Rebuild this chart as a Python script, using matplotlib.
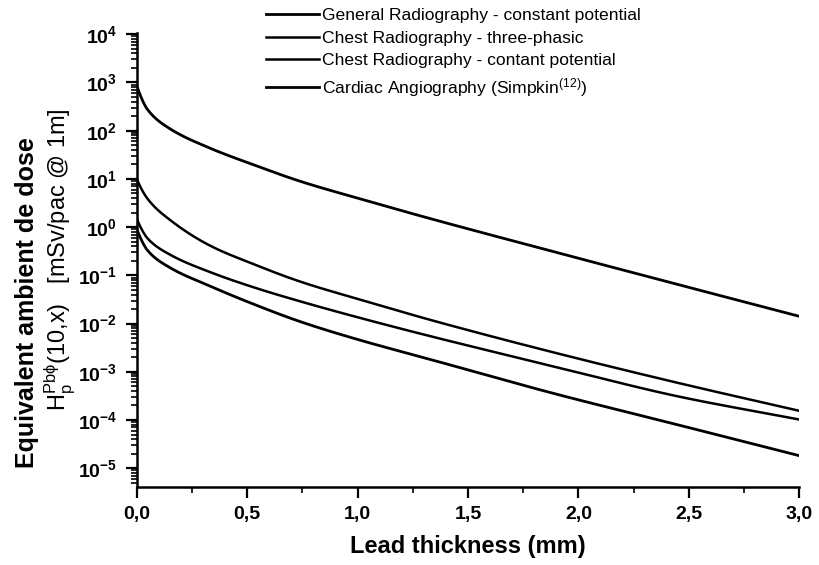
import matplotlib
matplotlib.use("Agg")
import matplotlib.pyplot as plt
import numpy as np
from matplotlib.ticker import FixedLocator, LogLocator, FuncFormatter, NullFormatter

plt.rcParams['font.family'] = ['Liberation Sans', 'DejaVu Sans']
plt.rcParams['mathtext.fontset'] = 'custom'
plt.rcParams['mathtext.rm'] = 'Liberation Sans'
plt.rcParams['mathtext.it'] = 'Liberation Sans:italic'
plt.rcParams['mathtext.bf'] = 'Liberation Sans:bold'

# lead thickness (mm)
x = np.array([0, 0.05, 0.15, 0.33, 0.53, 0.74, 1.0, 1.31, 1.88, 2.45, 3.0])

# log10 of the dose
general_cp = np.array([2.93, 2.43, 2.04, 1.64, 1.29, 0.95, 0.60, 0.20, -0.50, -1.19, -1.85])
chest_3ph = np.array([1.00, 0.58, 0.15, -0.38, -0.77, -1.13, -1.49, -1.90, -2.59, -3.23, -3.81])
chest_cp = np.array([0.17, -0.24, -0.57, -0.93, -1.25, -1.54, -1.87, -2.24, -2.88, -3.51, -3.99])
cardiac = np.array([-0.04, -0.49, -0.84, -1.22, -1.60, -1.96, -2.33, -2.72, -3.44, -4.10, -4.74])

labels = ["General Radiography - constant potential",
          "Chest Radiography - three-phasic",
          "Chest Radiography - contant potential",
          r"Cardiac Angiography (Simpkin$^{(12)}$)"]

xticks = [0.0, 0.5, 1.0, 1.5, 2.0, 2.5, 3.0]


def pchip(xk, yk, xs):
    # monotone cubic through the read points (Fritsch-Carlson)
    h = np.diff(xk)
    d = np.diff(yk) / h
    m = np.zeros_like(yk)
    for i in range(1, len(xk) - 1):
        if d[i - 1] * d[i] > 0:
            w1 = 2 * h[i] + h[i - 1]
            w2 = h[i] + 2 * h[i - 1]
            m[i] = (w1 + w2) / (w1 / d[i - 1] + w2 / d[i])
    m[0] = d[0] * 1.3
    m[-1] = d[-1]
    idx = np.clip(np.searchsorted(xk, xs) - 1, 0, len(xk) - 2)
    t = (xs - xk[idx]) / h[idx]
    h00 = 2 * t**3 - 3 * t**2 + 1
    h10 = t**3 - 2 * t**2 + t
    h01 = -2 * t**3 + 3 * t**2
    h11 = t**3 - t**2
    return h00 * yk[idx] + h10 * h[idx] * m[idx] + h01 * yk[idx + 1] + h11 * h[idx] * m[idx + 1]


fig = plt.figure(figsize=(8.19, 5.65), dpi=100)
ax = fig.add_axes([0.167, 0.138, 0.809, 0.804])

xs = np.linspace(0, 3, 600)
lines = []
for ys, lw in zip([general_cp, chest_3ph, chest_cp, cardiac], [2.0, 1.8, 1.8, 2.0]):
    l, = ax.plot(xs, 10 ** pchip(x, ys, xs), color='black', lw=lw)
    lines.append(l)

ax.set_yscale('log')
ax.set_xlim(0, 3.0)
ax.set_ylim(10 ** -5.39, 10 ** 4.03)

ax.spines['top'].set_visible(False)
ax.spines['right'].set_visible(False)
ax.spines['left'].set_linewidth(1.8)
ax.spines['bottom'].set_linewidth(1.8)

ax.xaxis.set_major_locator(FixedLocator(xticks))
ax.xaxis.set_minor_locator(FixedLocator([0.25, 0.75, 1.25, 1.75, 2.25, 2.75]))
ax.xaxis.set_major_formatter(FuncFormatter(lambda v, p: ("%.1f" % v).replace('.', ',')))

ax.yaxis.set_major_locator(LogLocator(base=10, numticks=20))
ax.yaxis.set_minor_locator(LogLocator(base=10, subs=np.arange(2, 10), numticks=20))
ax.yaxis.set_minor_formatter(NullFormatter())
ax.yaxis.set_major_formatter(FuncFormatter(lambda v, p: r"$\mathbf{10^{%d}}$" % int(round(np.log10(v)))))

ax.tick_params(which='major', direction='out', length=8, width=1.6, labelsize=14, pad=6)
ax.tick_params(which='minor', direction='out', length=4, width=1.2)
for t in ax.get_xticklabels():
    t.set_fontweight('bold')

ax.set_xlabel("Lead thickness (mm)", fontsize=17, fontweight='bold', labelpad=8)

fig.text(0.033, 0.464, "Equivalent ambient de dose", rotation=90, fontsize=18,
         fontweight='bold', ha='center', va='center')
fig.text(0.073, 0.54, r"H$_\mathrm{p}^\mathrm{Pb\phi}$(10,x)   [mSv/pac @ 1m]", rotation=90,
         fontsize=17, ha='center', va='center')

fig.legend(lines, labels, loc='upper left', bbox_to_anchor=(0.306, 1.014), frameon=False,
           fontsize=12.6, handlelength=3.0, handletextpad=0.2, labelspacing=0.42)

fig.savefig("out.png", dpi=100)
